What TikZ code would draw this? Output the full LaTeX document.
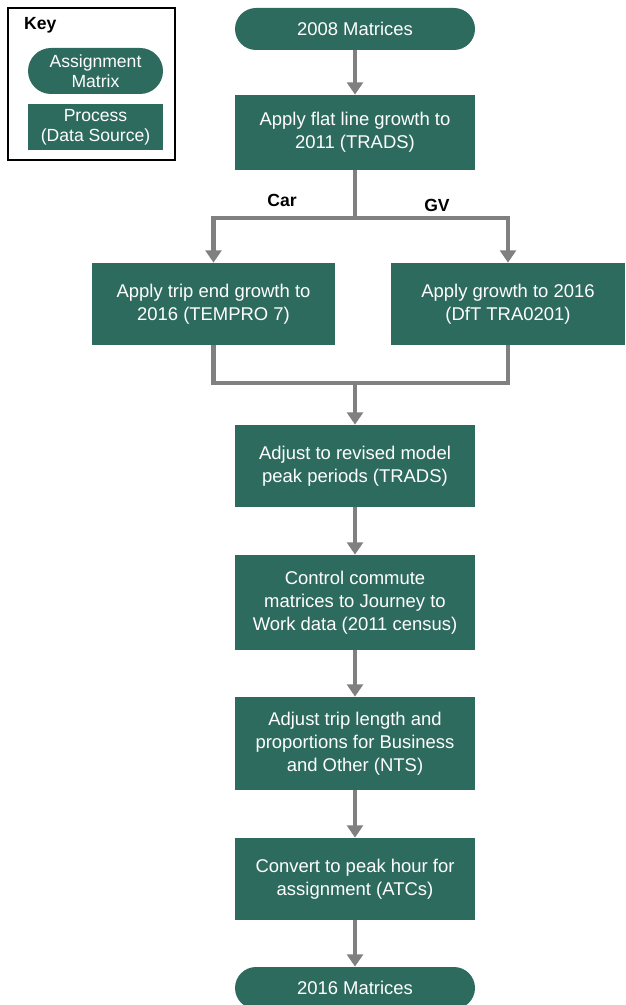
\documentclass[tikz,border=0pt]{standalone}
\usepackage{fontspec}
\setmainfont{Liberation Sans}
\usetikzlibrary{arrows.meta}
\definecolor{tealbox}{RGB}{46,107,95}
\definecolor{flowgray}{RGB}{128,128,128}
\tikzset{
  procbox/.style={fill=tealbox, text=white, align=center, minimum width=4.8cm, inner sep=2pt,
    font=\fontsize{10.5}{13}\selectfont},
  matrixpill/.style={procbox, rounded corners=0.42cm, minimum height=0.84cm},
  flowline/.style={draw=flowgray, line width=2.3pt},
  flowarrow/.style={flowline, -{Triangle[width=9pt,length=7pt]}},
  branchlbl/.style={font=\fontsize{10}{12}\selectfont\bfseries}
}
\begin{document}
\begin{tikzpicture}
  \useasboundingbox (0,0) rectangle (12.5,-20.1);
  % key
  \draw[line width=0.9pt] (0.16,-0.16) rectangle (3.5,-3.2);
  \node[anchor=west, font=\fontsize{10}{12}\selectfont\bfseries] (keytitle) at (0.36,-0.5) {Key};
  \node[matrixpill, minimum width=2.7cm, minimum height=0.92cm, rounded corners=0.46cm,
    font=\fontsize{10}{11.5}\selectfont] (keypill) at (1.91,-1.42) {Assignment\\Matrix};
  \node[procbox, minimum width=2.7cm, minimum height=0.92cm,
    font=\fontsize{10}{11.5}\selectfont] (keyproc) at (1.91,-2.54) {Process\\(Data Source)};
  % main flow
  \node[matrixpill] (m2008) at (7.1,-0.58) {2008 Matrices};
  \node[procbox, minimum height=1.5cm] (flat) at (7.1,-2.65) {Apply flat line growth to\\2011 (TRADS)};
  \node[procbox, minimum width=4.86cm, minimum height=1.64cm] (tempro) at (4.27,-6.08) {Apply trip end growth to\\2016 (TEMPRO 7)};
  \node[procbox, minimum width=4.68cm, minimum height=1.64cm] (dft) at (10.16,-6.08) {Apply growth to 2016\\(DfT TRA0201)};
  \node[procbox, minimum height=1.64cm] (peak) at (7.1,-9.32) {Adjust to revised model\\peak periods (TRADS)};
  \node[procbox, minimum height=1.9cm] (census) at (7.1,-12.05) {Control commute\\matrices to Journey to\\Work data (2011 census)};
  \node[procbox, minimum height=1.86cm] (nts) at (7.1,-14.87) {Adjust trip length and\\proportions for Business\\and Other (NTS)};
  \node[procbox, minimum height=1.64cm] (atc) at (7.1,-17.58) {Convert to peak hour for\\assignment (ATCs)};
  \node[matrixpill] (m2016) at (7.1,-19.76) {2016 Matrices};
  % branch and merge points
  \coordinate (split) at (7.1,-4.36);
  \coordinate (merge) at (7.1,-7.66);
  \node[branchlbl] (carlbl) at (5.64,-4.0) {Car};
  \node[branchlbl] (gvlbl) at (8.74,-4.1) {GV};
  % connectors
  \draw[flowarrow] (m2008) -- (flat);
  \draw[flowline] (flat.south) -- (split);
  \draw[flowarrow] (split) -| (tempro.north);
  \draw[flowarrow] (split) -| (dft.north);
  \draw[flowline] (tempro.south) |- (merge);
  \draw[flowline] (dft.south) |- (merge);
  \draw[flowarrow] (merge) -- (peak.north);
  \draw[flowarrow] (peak) -- (census);
  \draw[flowarrow] (census) -- (nts);
  \draw[flowarrow] (nts) -- (atc);
  \draw[flowarrow] (atc) -- (m2016);
\end{tikzpicture}
\end{document}
